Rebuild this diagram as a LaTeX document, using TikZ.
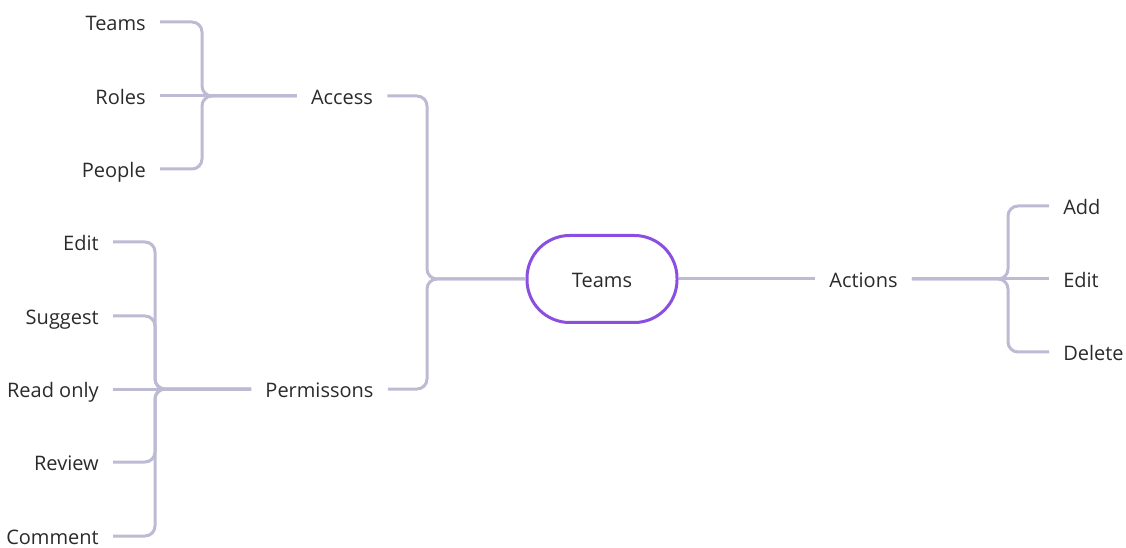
\documentclass[tikz,border=0pt]{standalone}
\usepackage{fontspec}
\setmainfont{Open Sans}
\definecolor{linkgray}{HTML}{BDBBD4}
\definecolor{hubpurple}{HTML}{8A4FE0}
\definecolor{textdark}{HTML}{2A2A2A}
\begin{document}
\begin{tikzpicture}[x=0.75pt,y=-0.75pt,
  link/.style={draw=linkgray, line width=2.25pt, rounded corners=7.5pt},
  label/.style={font=\fontsize{15}{18}\selectfont, text=textdark,
    inner xsep=10.5pt, inner ysep=0pt, text height=12.2pt, text depth=0pt},
  hub/.style={label, draw=hubpurple, line width=2.25pt, rounded corners=32pt,
    minimum width=112.5pt, minimum height=65.25pt}]
\useasboundingbox (0,0) rectangle (1126,548);

% centre
\node[hub] (teams) at (602,279) {Teams};

% first level
\node[label] (acc) at (342,96) {Access};
\node[label] (perm) at (319.5,389) {Permissons};
\node[label] (act) at (863.5,279) {Actions};

% access children
\node[label, anchor=east] (ateams) at (160,22) {Teams};
\node[label, anchor=east] (aroles) at (160,96) {Roles};
\node[label, anchor=east] (apeople) at (160,169) {People};

% permission children
\node[label, anchor=east] (pedit) at (113,242) {Edit};
\node[label, anchor=east] (psugg) at (113,316) {Suggest};
\node[label, anchor=east] (pread) at (113,389) {Read only};
\node[label, anchor=east] (prev) at (113,462) {Review};
\node[label, anchor=east] (pcomm) at (113,536) {Comment};

% action children
\node[label, anchor=west] (aadd) at (1049,206) {Add};
\node[label, anchor=west] (aedit) at (1049,279) {Edit};
\node[label, anchor=west] (adel) at (1049,352) {Delete};

% centre to first level
\draw[link] (acc.east) -- (427,96) -- (427,279) -- (teams.west);
\draw[link] (perm.east) -- (427,389) -- (427,279) -- (teams.west);
\draw[link] (teams.east) -- (act.west);

% access branch
\draw[link] (ateams.east) -- (202,22) -- (202,96) -- (acc.west);
\draw[link] (aroles.east) -- (acc.west);
\draw[link] (apeople.east) -- (202,169) -- (202,96) -- (acc.west);

% permissions branch
\draw[link] (pedit.east) -- (155,242) -- (155,389) -- (perm.west);
\draw[link] (psugg.east) -- (155,316) -- (155,389) -- (perm.west);
\draw[link] (pread.east) -- (perm.west);
\draw[link] (prev.east) -- (155,462) -- (155,389) -- (perm.west);
\draw[link] (pcomm.east) -- (155,536) -- (155,389) -- (perm.west);

% actions branch
\draw[link] (act.east) -- (1008,279) -- (1008,206) -- (aadd.west);
\draw[link] (act.east) -- (aedit.west);
\draw[link] (act.east) -- (1008,279) -- (1008,352) -- (adel.west);
\end{tikzpicture}
\end{document}
